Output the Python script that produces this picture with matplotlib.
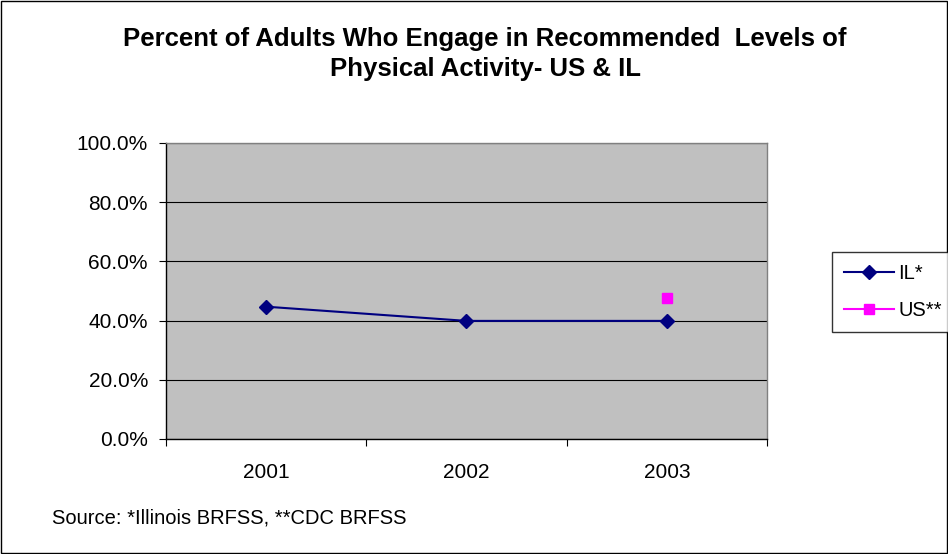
import matplotlib
matplotlib.use("Agg")
import matplotlib.pyplot as plt
from matplotlib.patches import Rectangle
import numpy as np

plt.rcParams['font.family'] = ['Liberation Sans', 'DejaVu Sans']

years = ["2001", "2002", "2003"]
il_values = [44.7, 39.9, 39.9]
us_values = [None, None, 47.5]
y_ticks = [0, 20, 40, 60, 80, 100]

W, H = 948, 554
fig = plt.figure(figsize=(W / 100, H / 100), dpi=100)
fig.patches.append(Rectangle((0.001, 0.001), 0.998, 0.997, transform=fig.transFigure,
                             fill=False, edgecolor='black', linewidth=1.0))

ax = fig.add_axes([166 / W, 1 - 439 / H, (767 - 166) / W, (439 - 143) / H])
ax.set_facecolor('#C0C0C0')

x = np.arange(len(years))
ax.plot(x, il_values, color='#000080', marker='D', markersize=7.5, linewidth=1.5, label='IL*')
us_x = [i for i, v in enumerate(us_values) if v is not None]
us_y = [v for v in us_values if v is not None]
ax.plot(us_x, us_y, color='#FF00FF', marker='s', markersize=7.5, linewidth=1.5, label='US**')

ax.set_xlim(-0.5, 2.5)
ax.set_ylim(0, 100)
ax.set_yticks(y_ticks)
ax.set_yticklabels([f"{v:.1f}%" for v in y_ticks], fontsize=15)
ax.yaxis.grid(True, color='black', linewidth=0.8)
ax.set_axisbelow(True)

ax.set_xticks([-0.5, 0.5, 1.5, 2.5])
ax.set_xticklabels([])
ax.set_xticks(x, minor=True)
ax.set_xticklabels(years, minor=True, fontsize=15)
ax.tick_params(axis='x', which='minor', length=0, pad=17)
ax.tick_params(axis='x', which='major', length=5, direction='out', color='black')
ax.tick_params(axis='y', length=5, direction='out', color='black', pad=8)

for s in ['top', 'right']:
    ax.spines[s].set_color('#808080')
    ax.spines[s].set_linewidth(1.0)
for s in ['left', 'bottom']:
    ax.spines[s].set_color('black')
    ax.spines[s].set_linewidth(1.0)

fig.text(485 / W, 1 - 39 / H, "Percent of Adults Who Engage in Recommended  Levels of",
         ha='center', va='center', fontsize=18.5, fontweight='bold')
fig.text(485 / W, 1 - 69 / H, "Physical Activity- US & IL",
         ha='center', va='center', fontsize=18.5, fontweight='bold')

fig.text(52 / W, 1 - 518 / H, "Source: *Illinois BRFSS, **CDC BRFSS", ha='left', va='center', fontsize=14.5)

leg = fig.legend(loc='upper left', bbox_to_anchor=(832 / W, 1 - 252 / H), frameon=True, fancybox=False,
                 edgecolor='black', fontsize=14.5, handlelength=2.5, borderaxespad=0,
                 handletextpad=0.2, labelspacing=0.9, borderpad=0.6)
leg.get_frame().set_linewidth(1.0)

fig.savefig("out.png", dpi=100)
